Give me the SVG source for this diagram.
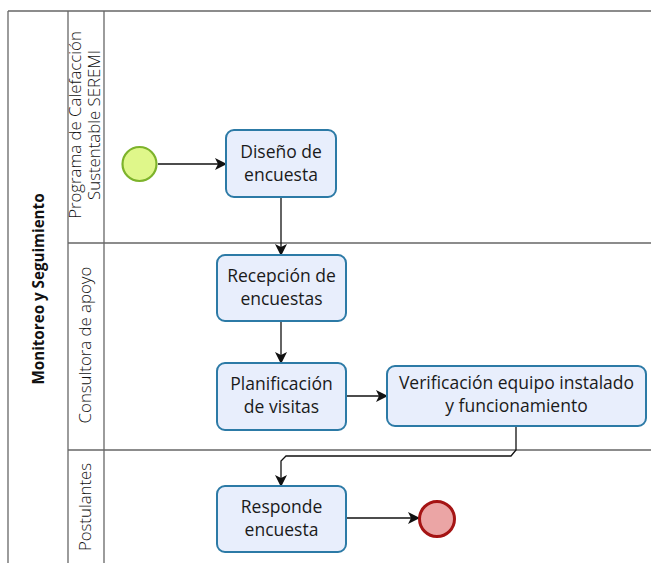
<svg xmlns="http://www.w3.org/2000/svg" width="651" height="563" viewBox="0 0 651 563">
<defs>
<style>
.pool{fill:none;stroke:#666;stroke-width:1.3}
.task rect{fill:#e8eefc;stroke:#2c7aa6;stroke-width:2}
.tt{font-family:"Open Sans","Liberation Sans",sans-serif;font-size:17.5px;fill:#1a1a1a;text-anchor:middle}
.lane{font-family:"Open Sans","Liberation Sans",sans-serif;font-size:16.8px;font-weight:300;fill:#111;text-anchor:middle}
.pooltxt{font-family:"Open Sans","Liberation Sans",sans-serif;font-size:15.2px;font-weight:700;fill:#111;text-anchor:middle}
.conn{fill:none;stroke:#111;stroke-width:1.3}
</style>
<marker id="arr" viewBox="0 0 12 12" refX="11" refY="6" markerWidth="12" markerHeight="12" markerUnits="userSpaceOnUse" orient="auto">
<path d="M0,0 L12,6 L0,12 L3,6 Z" fill="#111"/>
</marker>
</defs>
<rect width="651" height="563" fill="#fff"/>
<g id="pool">
<line class="pool" x1="8" y1="11" x2="651" y2="11"/>
<line class="pool" x1="8" y1="11" x2="8" y2="563"/>
<line class="pool" x1="68" y1="11" x2="68" y2="563"/>
<line class="pool" x1="104" y1="11" x2="104" y2="563"/>
<line class="pool" x1="68" y1="243" x2="651" y2="243"/>
<line class="pool" x1="68" y1="450" x2="651" y2="450"/>
<text class="pooltxt" transform="translate(44,289) rotate(-90)">Monitoreo y Seguimiento</text>
<text class="lane" transform="translate(81,125) rotate(-90)">Programa de Calefacción</text>
<text class="lane" transform="translate(100,125) rotate(-90)">Sustentable SEREMI</text>
<text class="lane" transform="translate(91,345) rotate(-90)">Consultora de apoyo</text>
<text class="lane" transform="translate(91,507) rotate(-90)">Postulantes</text>
</g>
<g id="connectors">
<path class="conn" d="M158,164 H226" marker-end="url(#arr)"/>
<path class="conn" d="M281,197 V255" marker-end="url(#arr)"/>
<path class="conn" d="M281,321 V363" marker-end="url(#arr)"/>
<path class="conn" d="M346,396 H387" marker-end="url(#arr)"/>
<path class="conn" d="M516,426 V450 L511,456 H286 L281,461 V486" marker-end="url(#arr)"/>
<path class="conn" d="M346,518 H419" marker-end="url(#arr)"/>
</g>
<g id="start"><circle cx="139.5" cy="164" r="17" fill="#dff78a" stroke="#7db32b" stroke-width="2.2"/></g>
<g id="end"><circle cx="437" cy="519" r="17.5" fill="#eba5a5" stroke="#a51414" stroke-width="3"/></g>
<g id="diseno" class="task"><rect x="226" y="130" width="110" height="67" rx="8"/>
<text class="tt" x="281" y="158">Diseño de</text><text class="tt" x="281" y="181">encuesta</text></g>
<g id="recepcion" class="task"><rect x="217" y="255" width="129" height="66" rx="8"/>
<text class="tt" x="281.5" y="282">Recepción de</text><text class="tt" x="281.5" y="305">encuestas</text></g>
<g id="planificacion" class="task"><rect x="217" y="363" width="129" height="67" rx="8"/>
<text class="tt" x="281.5" y="390">Planificación</text><text class="tt" x="281.5" y="413">de visitas</text></g>
<g id="verificacion" class="task"><rect x="387" y="366" width="259" height="60" rx="8"/>
<text class="tt" x="516.5" y="389">Verificación equipo instalado</text><text class="tt" x="516.5" y="412">y funcionamiento</text></g>
<g id="responde" class="task"><rect x="217" y="486" width="129" height="66" rx="8"/>
<text class="tt" x="281.5" y="513">Responde</text><text class="tt" x="281.5" y="536">encuesta</text></g>
</svg>
